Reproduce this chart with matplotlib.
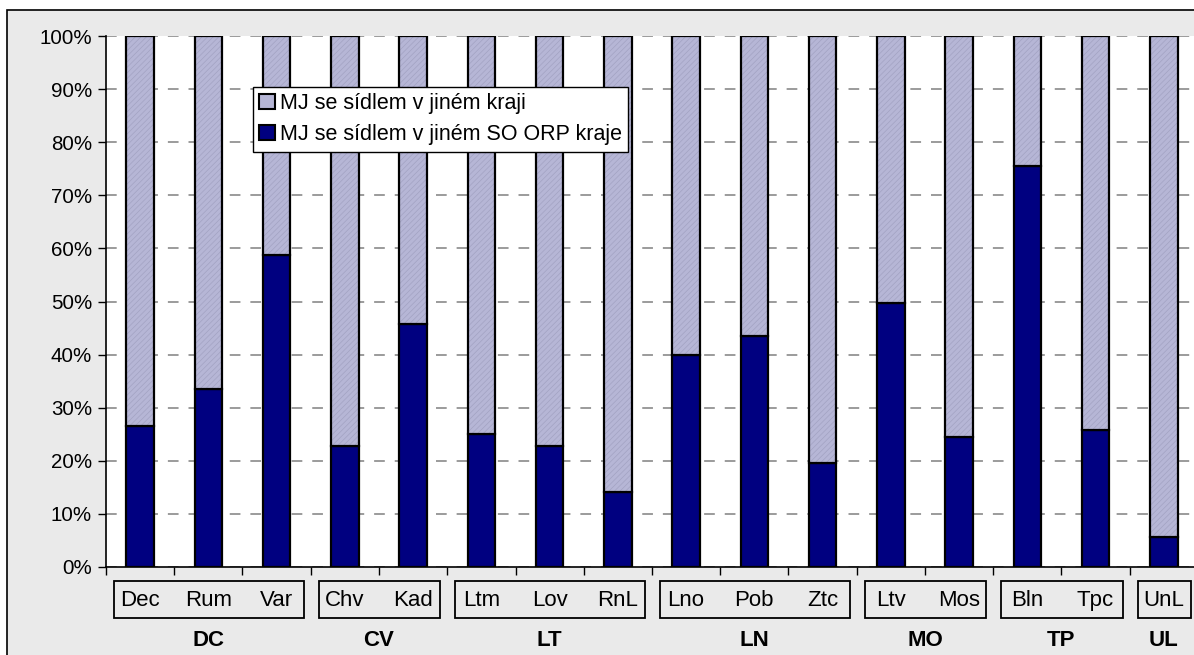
import matplotlib
matplotlib.use("Agg")
import matplotlib.pyplot as plt
from matplotlib.patches import Rectangle, Patch
import numpy as np

plt.rcParams['font.family'] = ['Liberation Sans', 'DejaVu Sans']
plt.rcParams['hatch.linewidth'] = 0.5

categories = ["Dec", "Rum", "Var", "Chv", "Kad", "Ltm", "Lov", "RnL",
              "Lno", "Pob", "Ztc", "Ltv", "Mos", "Bln", "Tpc", "UnL"]
groups = ["DC", "CV", "LT", "LN", "MO", "TP", "UL"]
group_sizes = [3, 2, 3, 3, 2, 2, 1]
same_region = [26.5, 33.5, 58.8, 22.8, 45.8, 25.0, 22.8, 14.2,
               40.0, 43.5, 19.5, 49.8, 24.4, 75.5, 25.8, 5.6]
other_region = [100 - v for v in same_region]

label_other = "MJ se sídlem v jiném kraji"
label_same = "MJ se sídlem v jiném SO ORP kraje"

dark = "#000080"
light = "#B6B6D6"
hatchc = "#A2A2C2"

W, H = 1194, 655
fig = plt.figure(figsize=(W / 100, H / 100), dpi=100)
fig.patch.set_facecolor("white")
# outer chart area
fig.patches.append(Rectangle((7 / W, -0.1), 1.2, 1 - 10 / H + 0.1,
                             transform=fig.transFigure, facecolor="#EAEAEA",
                             edgecolor="black", linewidth=1.2, zorder=-10))

ax = fig.add_axes([106 / W, 1 - 567 / H, (1198 - 106) / W, 531 / H])
ax.set_facecolor("white")

x = np.arange(len(categories))
bw = 0.4
# dark bars
ax.bar(x, same_region, bw, color=dark, edgecolor="black", linewidth=1.6, zorder=3)
# light bars: hatched fill then outline
ax.bar(x, other_region, bw, bottom=same_region, color=light, edgecolor=hatchc,
       hatch="//////", linewidth=0, zorder=3)
ax.bar(x, other_region, bw, bottom=same_region, fill=False, edgecolor="black",
       linewidth=1.6, zorder=4)

ax.set_xlim(-0.5, len(categories) - 0.5)
ax.set_ylim(0, 100)
ax.set_yticks(np.arange(0, 101, 10))
ax.set_yticklabels([f"{v}%" for v in range(0, 101, 10)], fontsize=14.8)
ax.yaxis.grid(True, color="#808080", linestyle=(0, (7, 6.5)), linewidth=1.1, zorder=0)
ax.set_axisbelow(True)
ax.tick_params(axis="y", direction="out", length=6, width=1, pad=4)

ax.set_xticks([])
ax.set_xticks(np.arange(-0.5, len(categories), 1), minor=True)
ax.tick_params(axis="x", which="minor", direction="out", length=6, width=1,
               labelbottom=False)
ax.tick_params(axis="x", which="major", length=0, labelbottom=False)

for s in ["top", "right"]:
    ax.spines[s].set_visible(False)
ax.spines["left"].set_linewidth(1.2)
ax.spines["bottom"].set_linewidth(1.2)

trans = ax.get_xaxis_transform()
# category labels
for xi, c in zip(x, categories):
    ax.text(xi, -0.064, c, transform=trans, ha="center", va="center",
            fontsize=16, clip_on=False)
# group boxes and labels
start = 0
for g, n in zip(groups, group_sizes):
    x0 = start - 0.5 + 0.115
    x1 = start + n - 0.5 - 0.1
    ax.add_patch(Rectangle((x0, -0.096), x1 - x0, 0.07, transform=trans,
                           fill=False, edgecolor="black", linewidth=1.3,
                           clip_on=False))
    ax.text(start + (n - 1) / 2, -0.1375, g, transform=trans, ha="center",
            va="center", fontsize=16, fontweight="bold", clip_on=False)
    start += n

handles = [Patch(facecolor=light, edgecolor="black", linewidth=1.5),
           Patch(facecolor=dark, edgecolor="black", linewidth=1.5)]
leg = fig.legend(handles, [label_other, label_same], loc="upper left",
                 bbox_to_anchor=(253 / W, 1 - 87 / H), fontsize=15.5,
                 frameon=True, fancybox=False, edgecolor="black",
                 handlelength=0.7, handleheight=0.7, handletextpad=0.25,
                 borderpad=0.3, labelspacing=0.45, borderaxespad=0)
leg.get_frame().set_linewidth(1.0)
leg.get_frame().set_alpha(1)
leg.set_zorder(10)

fig.savefig("out.png", dpi=100)
